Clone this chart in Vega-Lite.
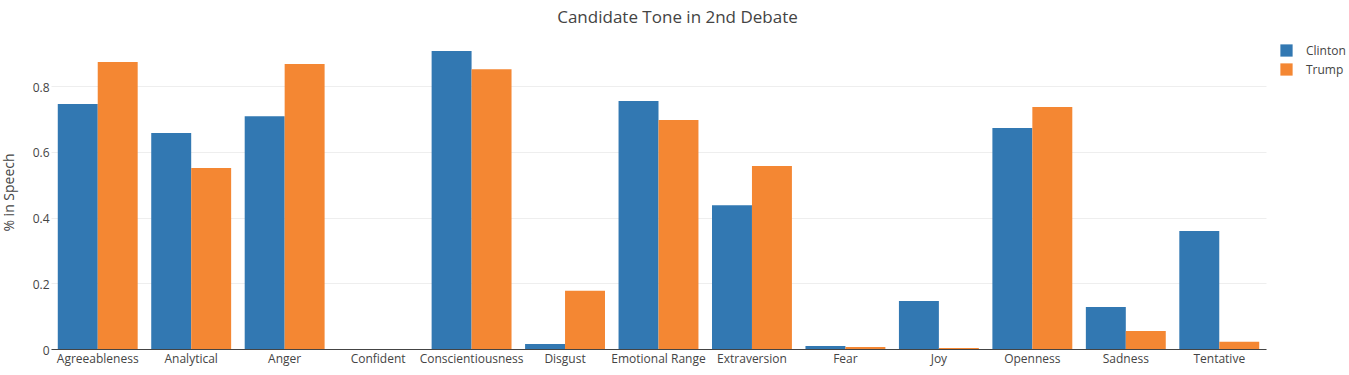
{"$schema":"https://vega.github.io/schema/vega-lite/v6.json","width":1215,"height":314,"autosize":{"type":"none"},"padding":{"left":51,"top":35,"right":83,"bottom":26},"background":"white","view":{"stroke":null},"title":{"text":"Candidate Tone in 2nd Debate","font":"Open Sans","fontSize":17,"fontWeight":"normal","color":"#444444","anchor":"middle","dx":19,"offset":8},"data":{"values":[
{"tone":"Agreeableness","candidate":"Clinton","value":0.746},{"tone":"Agreeableness","candidate":"Trump","value":0.874},
{"tone":"Analytical","candidate":"Clinton","value":0.658},{"tone":"Analytical","candidate":"Trump","value":0.551},
{"tone":"Anger","candidate":"Clinton","value":0.709},{"tone":"Anger","candidate":"Trump","value":0.868},
{"tone":"Confident","candidate":"Clinton","value":0},{"tone":"Confident","candidate":"Trump","value":0},
{"tone":"Conscientiousness","candidate":"Clinton","value":0.907},{"tone":"Conscientiousness","candidate":"Trump","value":0.852},
{"tone":"Disgust","candidate":"Clinton","value":0.015},{"tone":"Disgust","candidate":"Trump","value":0.177},
{"tone":"Emotional Range","candidate":"Clinton","value":0.755},{"tone":"Emotional Range","candidate":"Trump","value":0.697},
{"tone":"Extraversion","candidate":"Clinton","value":0.438},{"tone":"Extraversion","candidate":"Trump","value":0.557},
{"tone":"Fear","candidate":"Clinton","value":0.009},{"tone":"Fear","candidate":"Trump","value":0.006},
{"tone":"Joy","candidate":"Clinton","value":0.146},{"tone":"Joy","candidate":"Trump","value":0.003},
{"tone":"Openness","candidate":"Clinton","value":0.673},{"tone":"Openness","candidate":"Trump","value":0.737},
{"tone":"Sadness","candidate":"Clinton","value":0.128},{"tone":"Sadness","candidate":"Trump","value":0.055},
{"tone":"Tentative","candidate":"Clinton","value":0.359},{"tone":"Tentative","candidate":"Trump","value":0.022}
]},
"mark":{"type":"bar"},
"encoding":{
"x":{"field":"tone","type":"nominal","sort":null,"scale":{"paddingInner":0.145,"paddingOuter":0.0725},"axis":{"title":null,"labelAngle":0,"labelFont":"Open Sans","labelFontSize":12,"labelColor":"#444444","labelPadding":4,"ticks":false,"domainColor":"#444444","domainWidth":1,"grid":false}},
"xOffset":{"field":"candidate","type":"nominal","scale":{"paddingInner":0,"paddingOuter":0}},
"y":{"field":"value","type":"quantitative","scale":{"domain":[0,0.956],"nice":false},"axis":{"title":"% in Speech","titleFont":"Open Sans","titleFontSize":14,"titleFontWeight":"normal","titleColor":"#444444","titlePadding":16,"values":[0,0.2,0.4,0.6,0.8],"format":"~g","labelFont":"Open Sans","labelFontSize":12,"labelColor":"#444444","labelPadding":2,"labelOffset":1,"ticks":false,"domain":false,"grid":true,"gridColor":"#eeeeee","gridWidth":1}},
"color":{"field":"candidate","type":"nominal","scale":{"domain":["Clinton","Trump"],"range":["#3278b2","#f48733"]},"legend":{"title":null,"orient":"none","legendX":1229,"legendY":9,"symbolType":"square","symbolSize":150,"symbolStrokeWidth":0,"symbolOpacity":1,"labelFont":"Open Sans","labelFontSize":12,"labelColor":"#444444","labelOffset":13,"rowPadding":6}}
}}
